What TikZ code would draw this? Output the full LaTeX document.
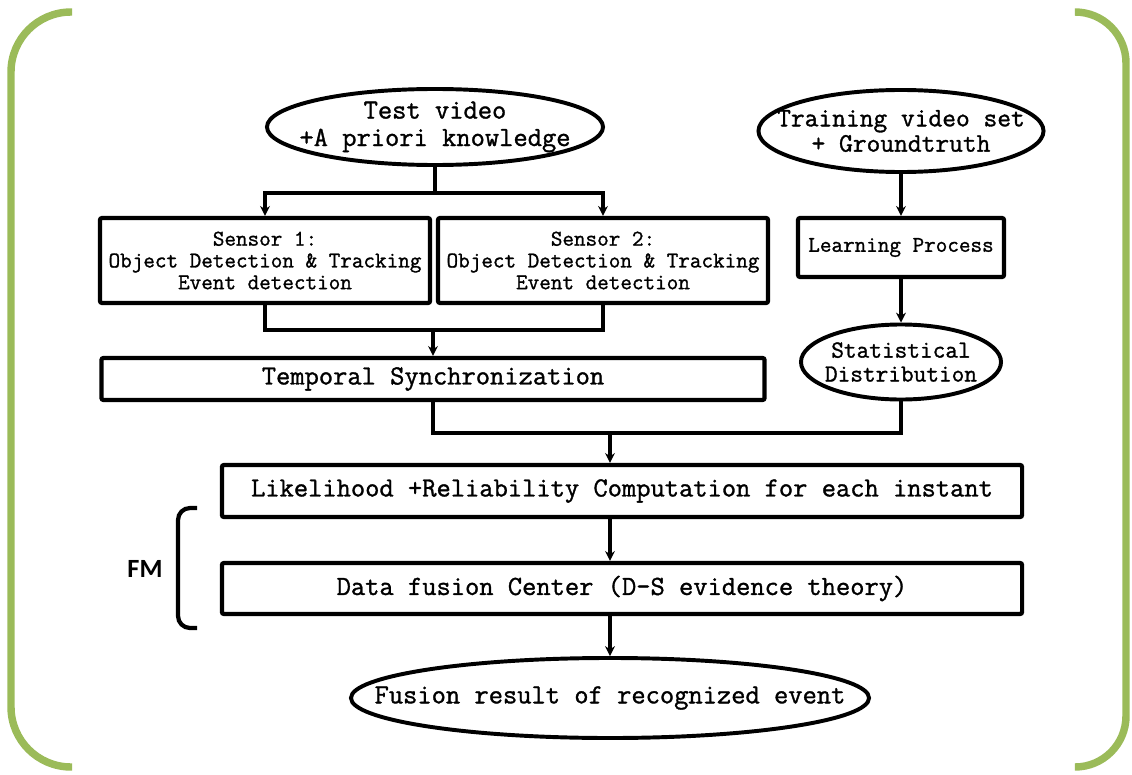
\documentclass[tikz,border=0pt]{standalone}
\usepackage{fontspec}
\setmonofont{Latin Modern Mono}[FakeBold=1.2]
\newfontfamily\fmfont{Carlito}
\usetikzlibrary{shapes.geometric,arrows.meta}
\definecolor{rimgreen}{RGB}{155,187,89}

\begin{document}
\begin{tikzpicture}[x=0.025cm,y=-0.025cm,
	box/.style={draw,line width=3pt,rounded corners=1.5pt,align=center,inner sep=0pt},
	oval/.style={draw,ellipse,line width=2.8pt,inner sep=0pt},
	txt/.style={align=center,inner sep=0pt},
	big/.style={font=\ttfamily\fontsize{19.7}{19.5}\selectfont},
	small/.style={font=\ttfamily\fontsize{16}{15.5}\selectfont},
	line/.style={line width=2.4pt},
	arr/.style={line width=2.4pt,-{Stealth[length=7pt,width=7pt]}},
	rim/.style={line width=5.3pt,rimgreen}]
	\useasboundingbox (0,0) rectangle (1132,775);
	%\draw[help lines] (0,0) grid[step=2.5cm] (1132,775);
	\draw[rim,rounded corners=1.5cm] (72,12)--(11,12)--(11,767)--(72,767);
	\draw[rim,rounded corners=1.275cm] (1075,12)--(1126,12)--(1126,767)--(1075,767);

	\node[oval,minimum width=8.4cm,minimum height=1.9cm,
		label={[txt,big]center:Test video\\+A priori knowledge}] (test) at (435,127) {};
	\node[oval,minimum width=7.125cm,minimum height=2.05cm,
		label={[txt,font=\ttfamily\fontsize{19}{18}\selectfont]center:Training video set\\+ Groundtruth}] (train) at (901,131) {};
	\node[box,small,minimum width=8.25cm,minimum height=2.125cm] (s1) at (265,260.5) {Sensor 1:\\Object Detection \& Tracking\\Event detection};
	\node[box,small,minimum width=8.25cm,minimum height=2.125cm] (s2) at (603,260.5) {Sensor 2:\\Object Detection \& Tracking\\Event detection};
	\node[box,small,minimum width=5.15cm,minimum height=1.475cm] (learn) at (901,247.5) {Learning Process};
	\node[oval,minimum width=5cm,minimum height=1.875cm,
		label={[txt,font=\ttfamily\fontsize{17.5}{17}\selectfont]center:Statistical\\Distribution}] (stat) at (901,362) {};
	\node[box,big,minimum width=16.575cm,minimum height=1.05cm] (sync) at (433,379) {Temporal Synchronization};
	\node[box,big,minimum width=20cm,minimum height=1.3cm] (lik) at (622,491) {Likelihood +Reliability Computation for each instant};
	\node[box,big,minimum width=20cm,minimum height=1.275cm] (dfc) at (622,588.5) {Data fusion Center (D-S evidence theory)};
	\node[oval,minimum width=12.95cm,minimum height=2cm,
		label={[txt,big]center:Fusion result of recognized event}] (res) at (610,698) {};
	\node[font=\fmfont\bfseries\fontsize{18.7}{20}\selectfont] (fm) at (145,568.5) {FM};
	\draw[line width=3pt,rounded corners=0.3cm] (197,508)--(178,508)--(178,628)--(197,628);

	\coordinate (m1) at (435,193);
	\coordinate (m2) at (433,330);
	\coordinate (m3) at (610,433);
	\draw[line] (test.south)--(m1);
	\draw[arr] (m1)-|(s1.north);
	\draw[arr] (m1)-|(s2.north);
	\draw[line] (s1.south)|-(m2)-|(s2.south);
	\draw[arr] (m2)--(sync.north);
	\draw[arr] (train.south)--(learn.north);
	\draw[arr] (learn.south)--(stat.north);
	\draw[line] (sync.south)|-(stat.south |- m3)--(stat.south);
	\draw[arr] (m3)--(m3 |- lik.north);
	\draw[arr] (m3 |- lik.south)--(m3 |- dfc.north);
	\draw[arr] (m3 |- dfc.south)--(res.north);
\end{tikzpicture}
\end{document}
